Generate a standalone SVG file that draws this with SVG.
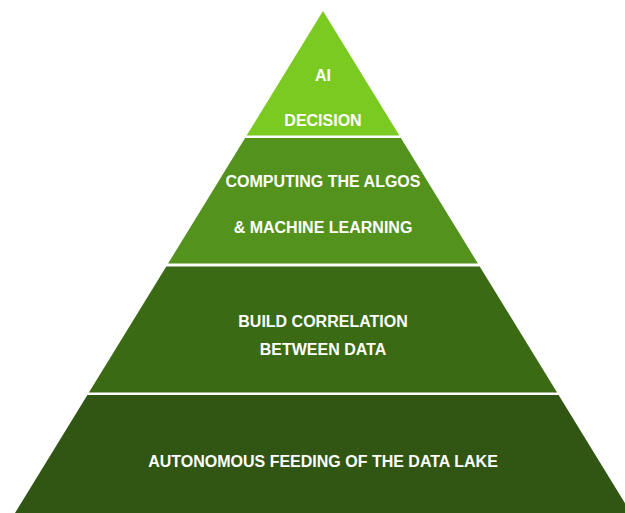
<svg xmlns="http://www.w3.org/2000/svg" width="625" height="513" viewBox="0 0 625 513">
  <style>
    .lbl { font-family: "Liberation Sans", Arial, sans-serif; font-weight: bold; font-size: 16px; fill: #ffffff; text-anchor: middle; }
  </style>
  <rect width="625" height="513" fill="#ffffff"/>
  <g id="layer-ai">
    <polygon points="323,11 399.4,135.5 246.6,135.5" fill="#7aca22"/>
    <text class="lbl" x="323" y="81">AI</text>
    <text class="lbl" x="323" y="126">DECISION</text>
  </g>
  <g id="layer-computing">
    <polygon points="245.1,138 400.9,138 477.9,263.5 168.1,263.5" fill="#53921d"/>
    <text class="lbl" x="323" y="187">COMPUTING THE ALGOS</text>
    <text class="lbl" x="323" y="233">&amp; MACHINE LEARNING</text>
  </g>
  <g id="layer-correlation">
    <polygon points="166.3,266.5 479.7,266.5 557.1,392.5 88.9,392.5" fill="#3a6a13"/>
    <text class="lbl" x="323" y="326.5">BUILD CORRELATION</text>
    <text class="lbl" x="323" y="355">BETWEEN DATA</text>
  </g>
  <g id="layer-feeding">
    <polygon points="87.4,395 558.6,395 631,513 15,513" fill="#315512"/>
    <text class="lbl" x="323" y="467">AUTONOMOUS FEEDING OF THE DATA LAKE</text>
  </g>
  <g id="connectors"/>
</svg>
